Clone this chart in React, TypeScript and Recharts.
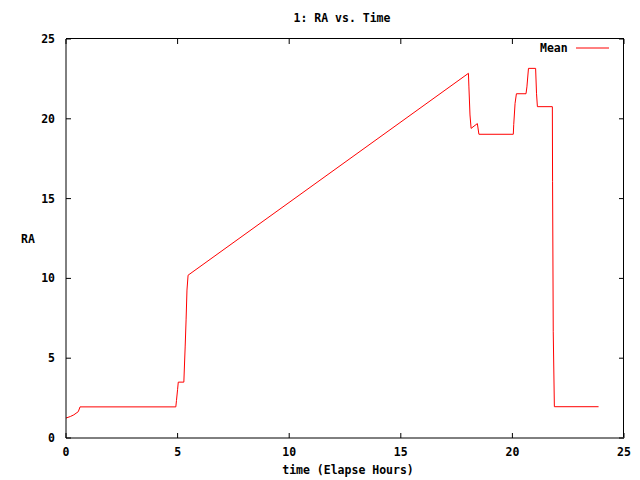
import { Line, LineChart, XAxis, YAxis } from "recharts";

const timeHours = [
  0, 0.2, 0.35, 0.45, 0.55, 0.63, 4.92, 4.95, 5.0, 5.03, 5.28, 5.3, 5.34, 5.38, 5.42, 5.47,
  18.03, 18.05, 18.1, 18.15, 18.43, 18.5, 20.04, 20.06, 20.12, 20.18, 20.61, 20.65, 20.72,
  21.04, 21.08, 21.12, 21.79, 21.8, 21.83, 21.88, 23.86,
];
const raMean = [
  1.25, 1.35, 1.45, 1.55, 1.65, 1.95, 1.95, 2.35, 3.05, 3.5, 3.5, 4.26, 5.76, 7.4, 9.27, 10.2,
  22.85, 22.05, 20.24, 19.4, 19.7, 19.03, 19.03, 19.65, 20.97, 21.57, 21.57, 22.0, 23.16,
  23.16, 21.6, 20.76, 20.76, 16.06, 6.66, 1.96, 1.96,
];
const axisTicks = [0, 5, 10, 15, 20, 25];
const AXIS_MAX = 25;

const data = timeHours.map((t, i) => ({ t, ra: raMean[i] }));

// layout
const CHART_W = 640;
const CHART_H = 480;
const MARGIN_TOP = 39;
const MARGIN_RIGHT = 16;
const YAXIS_W = 66;
const XAXIS_H = 42;
const PLOT_W = CHART_W - YAXIS_W - MARGIN_RIGHT;
const PLOT_H = CHART_H - MARGIN_TOP - XAXIS_H;
const TICK = 5;

const FONT = "'DejaVu Sans Mono', monospace";
const textStyle = { fontFamily: FONT, fontSize: 11.5, fontWeight: "bold" as const, fill: "#000" };
const labelStyle = { position: "absolute" as const, fontFamily: FONT, fontSize: 11.5, fontWeight: "bold" as const };

// bottom tick + mirrored top tick
const BottomTick = ({ x, y, payload }: any) => {
  const top = y - PLOT_H;
  return (
    <g>
      <line x1={x} y1={y} x2={x} y2={y - TICK} stroke="#000" />
      <line x1={x} y1={top} x2={x} y2={top + TICK} stroke="#000" />
      <text x={x} y={y + 18} textAnchor="middle" style={textStyle}>{payload.value}</text>
    </g>
  );
};
// left tick + mirrored right tick
const LeftTick = ({ x, y, payload }: any) => {
  const right = x + PLOT_W;
  return (
    <g>
      <line x1={x} y1={y} x2={x + TICK} y2={y} stroke="#000" />
      <line x1={right} y1={y} x2={right - TICK} y2={y} stroke="#000" />
      <text x={x - 11} y={y + 4} textAnchor="end" style={textStyle}>{payload.value}</text>
    </g>
  );
};

export default function App() {
  return (
    <div style={{ position: "absolute", left: 0, top: 0, width: CHART_W, height: CHART_H, background: "#fff" }}>
      <div style={{ ...labelStyle, top: 11, left: 0, width: CHART_W, paddingLeft: 44, boxSizing: "border-box", textAlign: "center" }}>
        1: RA vs. Time
      </div>
      <div style={{ ...labelStyle, top: 232, left: 21 }}>RA</div>
      <div style={{ ...labelStyle, top: 463, left: 0, width: CHART_W, paddingLeft: 56, boxSizing: "border-box", textAlign: "center" }}>
        time (Elapse Hours)
      </div>
      <div style={{ ...labelStyle, top: 41, left: 540, display: "flex", alignItems: "center" }}>
        <span>Mean</span>
        <svg width={42} height={10}>
          <line x1={8} y1={5} x2={41} y2={5} stroke="#ff0000" />
        </svg>
      </div>
      {/* plot frame: top and right edges */}
      <div
        style={{
          position: "absolute",
          left: YAXIS_W,
          top: MARGIN_TOP - 1,
          width: PLOT_W,
          height: PLOT_H,
          borderTop: "1px solid #000",
          borderRight: "1px solid #000",
          boxSizing: "border-box",
          pointerEvents: "none",
        }}
      />
      <LineChart width={CHART_W} height={CHART_H} data={data} margin={{ top: MARGIN_TOP, right: MARGIN_RIGHT, bottom: 0, left: 0 }}>
        <XAxis dataKey="t" type="number" domain={[0, AXIS_MAX]} ticks={axisTicks} height={XAXIS_H} tickSize={0} tickMargin={0} tickLine={false} tick={BottomTick} stroke="#000" interval={0} />
        <YAxis type="number" domain={[0, AXIS_MAX]} ticks={axisTicks} width={YAXIS_W} tickSize={0} tickMargin={0} tickLine={false} tick={LeftTick} stroke="#000" interval={0} />
        <Line type="linear" dataKey="ra" name="Mean" stroke="#ff0000" strokeWidth={1} dot={false} isAnimationActive={false} />
      </LineChart>
    </div>
  );
}
